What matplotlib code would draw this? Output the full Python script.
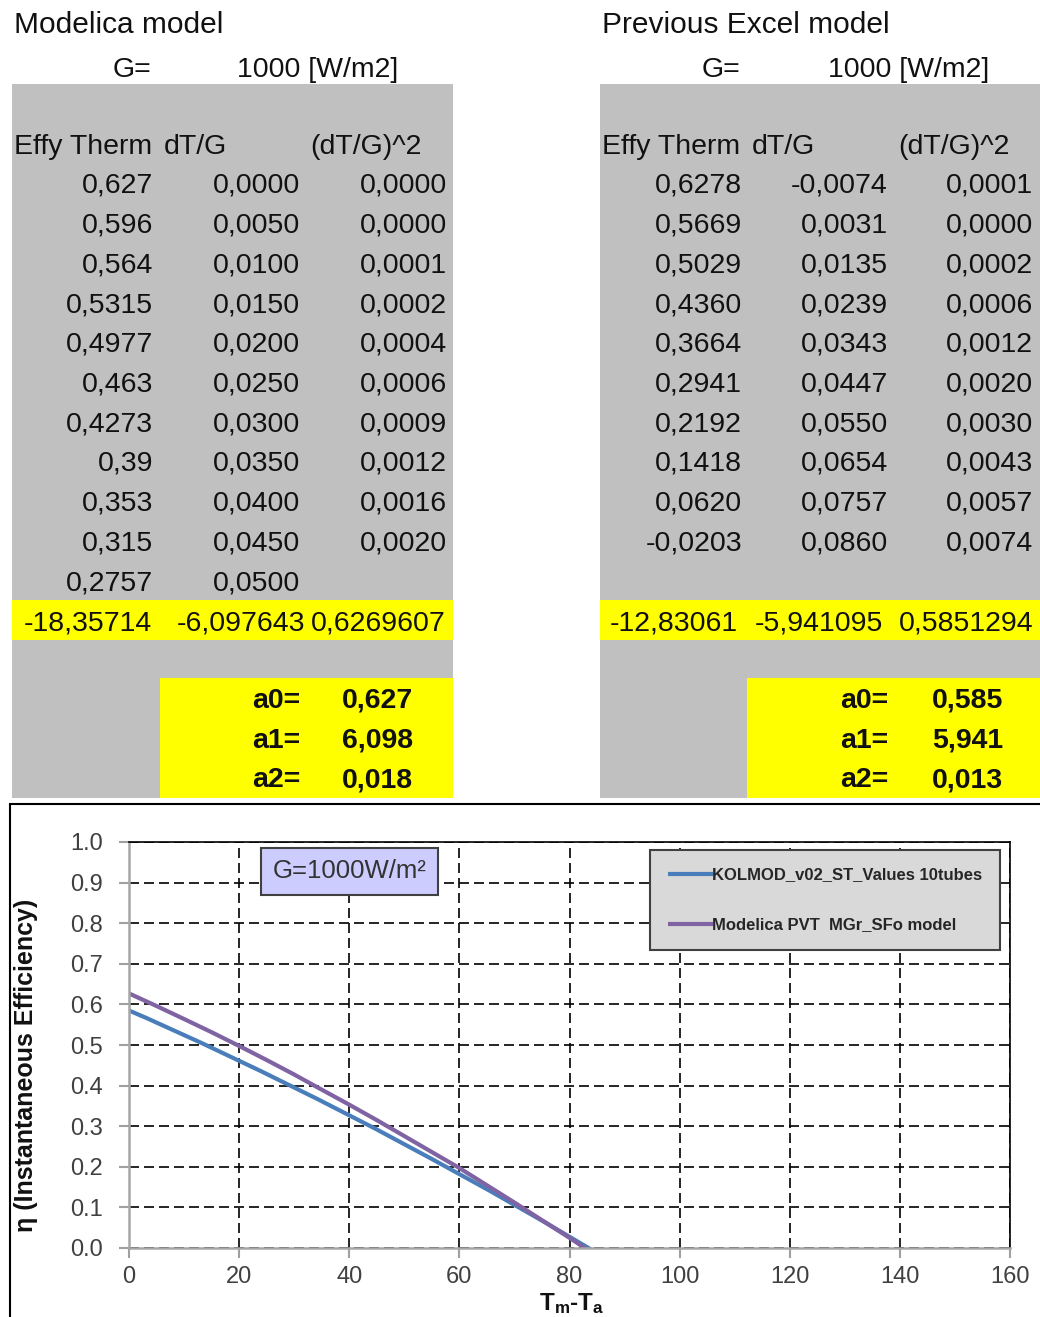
import matplotlib
matplotlib.use("Agg")
import matplotlib.pyplot as plt
from matplotlib.patches import Rectangle

plt.rcParams['font.family'] = ['Liberation Sans', 'DejaVu Sans']
plt.rcParams['mathtext.fontset'] = 'custom'
plt.rcParams['mathtext.rm'] = 'Liberation Sans'
plt.rcParams['mathtext.bf'] = 'Liberation Sans:bold'

# ---- table data (as shown in the spreadsheet, decimal comma) ----
G = 1000
header = ["Effy Therm", "dT/G", "(dT/G)^2"]

modelica_effy = ["0,627", "0,596", "0,564", "0,5315", "0,4977", "0,463",
                 "0,4273", "0,39", "0,353", "0,315", "0,2757"]
modelica_dtg = ["0,0000", "0,0050", "0,0100", "0,0150", "0,0200", "0,0250",
                "0,0300", "0,0350", "0,0400", "0,0450", "0,0500"]
modelica_dtg2 = ["0,0000", "0,0000", "0,0001", "0,0002", "0,0004", "0,0006",
                 "0,0009", "0,0012", "0,0016", "0,0020", ""]
modelica_fit = ["-18,35714", "-6,097643", "0,6269607"]
modelica_coef = ["0,627", "6,098", "0,018"]

excel_effy = ["0,6278", "0,5669", "0,5029", "0,4360", "0,3664", "0,2941",
              "0,2192", "0,1418", "0,0620", "-0,0203"]
excel_dtg = ["-0,0074", "0,0031", "0,0135", "0,0239", "0,0343", "0,0447",
             "0,0550", "0,0654", "0,0757", "0,0860"]
excel_dtg2 = ["0,0001", "0,0000", "0,0002", "0,0006", "0,0012", "0,0020",
              "0,0030", "0,0043", "0,0057", "0,0074"]
excel_fit = ["-12,83061", "-5,941095", "0,5851294"]
excel_coef = ["0,585", "5,941", "0,013"]
coef_names = ["a0=", "a1=", "a2="]

# Modelica curve beyond the tabulated range
modelica_ext_x = [60, 70, 80, 85]
modelica_ext_eta = [0.197, 0.112, 0.025, -0.02]

series_labels = ["KOLMOD_v02_ST_Values 10tubes", "Modelica PVT  MGr_SFo model"]
series_colors = ["#4a7ebb", "#7f63a3"]
xticks = [0, 20, 40, 60, 80, 100, 120, 140, 160]
yticks = [0.0, 0.1, 0.2, 0.3, 0.4, 0.5, 0.6, 0.7, 0.8, 0.9, 1.0]


def num(s):
    return float(s.replace(',', '.'))


fig = plt.figure(figsize=(10.4, 13.17), dpi=100)

# background canvas in pixel coordinates for the spreadsheet part
bg = fig.add_axes([0, 0, 1, 1])
bg.set_xlim(0, 1040)
bg.set_ylim(1317, 0)
bg.axis('off')

GRAY = '#c0c0c0'
YELLOW = '#ffff00'
TXT = '#111111'
FS = 20.5
row_base = [193 + 39.7 * i for i in range(11)]


def draw_table(x0, right, title, g_x, gval_x, col_rights, hdr_x, effy, dtg, dtg2,
               fit, fit_rights, coef, coef_x, val_x, box_x):
    bg.add_patch(Rectangle((x0, 84), right - x0, 714, facecolor=GRAY, edgecolor='none'))
    bg.add_patch(Rectangle((x0, 600), right - x0, 40, facecolor=YELLOW, edgecolor='none'))
    bg.add_patch(Rectangle((box_x, 678), right - box_x, 120, facecolor=YELLOW, edgecolor='none'))
    bg.text(x0 + 2, 33, title, fontsize=21.5, color=TXT, va='baseline')
    bg.text(g_x, 77, "G=", fontsize=FS, color=TXT, va='baseline')
    bg.text(gval_x, 77, f"{G} [W/m2]", fontsize=FS, color=TXT, va='baseline')
    for hx, h in zip(hdr_x, header):
        bg.text(hx, 154, h, fontsize=FS, color=TXT, va='baseline')
    for col, xr in zip([effy, dtg, dtg2], col_rights):
        for i, s in enumerate(col):
            bg.text(xr, row_base[i], s, fontsize=FS, color=TXT,
                    ha='right', va='baseline')
    for s, xr in zip(fit, fit_rights):
        bg.text(xr, 630, s, fontsize=FS, color=TXT, ha='right', va='baseline')
    for i, (n, v) in enumerate(zip(coef_names, coef)):
        y = 708 + 39.7 * i
        bg.text(coef_x, y, n, fontsize=FS, fontweight='bold', color=TXT,
                ha='right', va='baseline')
        bg.text(val_x, y, v, fontsize=FS, fontweight='bold', color=TXT,
                ha='right', va='baseline')


draw_table(12, 453, "Modelica model", 113, 237, [153, 300, 447], [14, 164, 310],
           modelica_effy, modelica_dtg, modelica_dtg2,
           modelica_fit, [152, 305, 446], modelica_coef, 300, 413, 160)
draw_table(600, 1040, "Previous Excel model", 702, 828, [742, 888, 1033], [602, 752, 898],
           excel_effy, excel_dtg, excel_dtg2,
           excel_fit, [738, 883, 1033], excel_coef, 888, 1003, 747)

# chart frame
bg.add_patch(Rectangle((10, 804), 1040, 520, facecolor='white',
                       edgecolor='black', linewidth=1.5))

# ---- chart ----
ax = fig.add_axes([129 / 1040, 1 - 1248 / 1317, 881 / 1040, 406 / 1317])
ax.set_xlim(0, 160)
ax.set_ylim(0, 1.0)

excel_x = [num(s) * G for s in excel_dtg]
excel_y = [num(s) for s in excel_effy]
mod_x = [num(s) * G for s in modelica_dtg] + modelica_ext_x
mod_y = [num(s) for s in modelica_effy] + modelica_ext_eta

ax.plot(excel_x, excel_y, color=series_colors[0], lw=3.0, label=series_labels[0],
        solid_capstyle='butt')
ax.plot(mod_x, mod_y, color=series_colors[1], lw=3.0, label=series_labels[1],
        solid_capstyle='butt')

ax.set_xticks(xticks)
ax.set_yticks(yticks)
ax.set_xticklabels([str(t) for t in xticks])
ax.set_yticklabels([f"{t:.1f}" for t in yticks])
ax.tick_params(axis='both', labelsize=17, labelcolor='#404040', color='#a0a0a0',
               width=1.5, length=7, direction='out')
ax.tick_params(axis='y', pad=12)
ax.tick_params(axis='x', pad=6)

ax.set_axisbelow(True)
ax.grid(True, color='black', linestyle=(0, (6, 3)), linewidth=1.2)
for s in ['left', 'bottom']:
    ax.spines[s].set_color('#a6a6a6')
    ax.spines[s].set_linewidth(1.8)
for s in ['top', 'right']:
    ax.spines[s].set_color('black')
    ax.spines[s].set_linewidth(1.2)

ax.set_ylabel("η (Instantaneous Efficiency)", fontsize=18, fontweight='bold',
              color='#111111')
ax.yaxis.set_label_coords((38 - 129) / 881, (1248 - 1065) / 406)
ax.set_xlabel(r"$\mathbf{T_m}$-$\mathbf{T_a}$", fontsize=17.5, fontweight='bold',
              color='#111111')
ax.xaxis.set_label_coords((572 - 129) / 881, -(1291 - 1248) / 406)

ax.text(40, 0.928, "G=1000W/m²", fontsize=18.5, color='#333333', ha='center', va='center',
        bbox=dict(boxstyle='square,pad=0.45', facecolor='#ccccff',
                  edgecolor='#404040', linewidth=1.5))

leg = ax.legend(loc='upper left', bbox_to_anchor=(650 / 1040, 1 - 850 / 1317),
                bbox_transform=fig.transFigure, borderaxespad=0,
                prop={'weight': 'bold', 'size': 12}, handlelength=2.7,
                handletextpad=0.0, labelspacing=2.1, borderpad=1.05,
                fancybox=False, framealpha=1, facecolor='#d9d9d9',
                edgecolor='#404040')
leg.get_frame().set_linewidth(1.5)
for t in leg.get_texts():
    t.set_color('#262626')

fig.savefig("out.png", dpi=100)
